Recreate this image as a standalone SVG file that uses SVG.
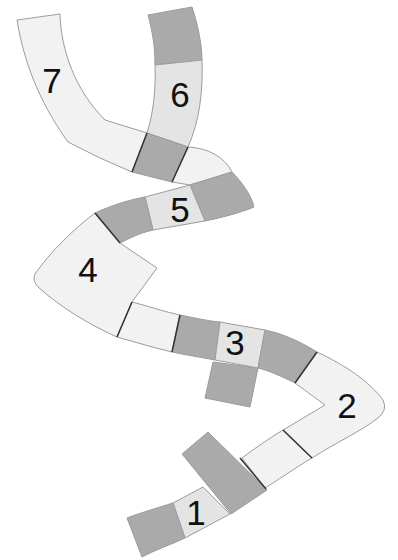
<svg xmlns="http://www.w3.org/2000/svg" width="398" height="560" viewBox="0 0 398 560">
<style>
.lt{fill:#f2f2f2;stroke:#9c9c9c;stroke-width:1;stroke-linejoin:round}
.md{fill:#e4e4e4;stroke:#9c9c9c;stroke-width:1;stroke-linejoin:round}
.dk{fill:#aaaaaa;stroke:#9c9c9c;stroke-width:1;stroke-linejoin:round}
.sep{stroke:#333;stroke-width:1.5;fill:none}
.num{font-family:"Liberation Sans",Arial,sans-serif;font-size:35px;fill:#111;text-anchor:middle}
</style>
<rect width="398" height="560" fill="#fff"/>
<g id="seg7">
<path class="lt" d="M17,20 L60,14 C61,50 75,90 105,120 L147,133 L132,172 L100,158 L68,142 C45,110 25,70 17,20 Z"/>
<text class="num" x="52" y="93">7</text>
</g>
<g id="seg6">
<path class="dk" d="M148,15 L192,7 C198,25 202,45 202,60 L155,65 C155,45 152,30 148,15 Z"/>
<path class="md" d="M155,65 L202,60 C203,90 200,120 188,147 L147,133 C153,115 156,90 155,65 Z"/>
<path class="dk" d="M147,133 L188,147 L172,182 L132,172 Z"/>
<text class="num" x="180" y="107">6</text>
</g>
<g id="seg5">
<path class="lt" d="M188,147 C207,148 224,156 232,172 L190,185 L172,182 Z"/>
<path class="dk" d="M190,185 L232,172 C243,183 252,197 254,207 C240,213 220,218 205,221 Z"/>
<path class="md" d="M145,197 L190,185 L205,221 L153,230 Z"/>
<path class="dk" d="M95,213 C110,206 128,200 145,197 L153,230 C140,233 130,238 120,243 Z"/>
<text class="num" x="180" y="222">5</text>
</g>
<g id="seg4">
<path class="lt" d="M95,213 L120,243 L157,268 L132,302 L117,337 C90,325 60,307 38,287 Q32,280 35,274 C50,252 75,228 95,213 Z"/>
<path class="lt" d="M132,302 C148,306 165,312 180,315 L172,352 C155,348 135,342 117,337 Z"/>
<text class="num" x="88" y="282">4</text>
</g>
<g id="seg3">
<path class="dk" d="M180,315 C195,318 208,321 220,322 L215,360 C200,357 185,355 172,352 Z"/>
<path class="dk" d="M213,362 L258,368 L250,407 L205,398 Z"/>
<path class="md" d="M220,322 L265,330 L258,368 L215,360 Z"/>
<path class="dk" d="M265,330 C280,333 298,340 317,352 L295,383 C283,377 270,371 258,368 Z"/>
<text class="num" x="235" y="355">3</text>
</g>
<g id="seg2">
<path class="lt" d="M317,352 C345,365 370,382 383,400 Q388,410 378,418 C360,432 335,443 312,458 L283,430 L325,405 L295,383 Z"/>
<path class="lt" d="M283,430 C270,438 255,448 242,458 L265,488 C275,482 295,468 312,458 Z"/>
<text class="num" x="347" y="418">2</text>
</g>
<g id="seg1">
<path class="dk" d="M182,454 L208,432 L267,490 L231,514 Z"/>
<path class="md" d="M173,503 L203,487 L230,514 L185,538 Z"/>
<path class="dk" d="M127,518 C140,513 160,507 173,503 L185,538 C170,545 155,550 142,557 Z"/>
<text class="num" x="196" y="525">1</text>
</g>
<g id="connectors">
<line class="sep" x1="147" y1="133" x2="132" y2="172"/>
<line class="sep" x1="188" y1="147" x2="172" y2="182"/>
<line class="sep" x1="95" y1="213" x2="120" y2="243"/>
<line class="sep" x1="132" y1="302" x2="117" y2="337"/>
<line class="sep" x1="180" y1="315" x2="172" y2="352"/>
<line class="sep" x1="317" y1="352" x2="295" y2="383"/>
<line class="sep" x1="312" y1="458" x2="283" y2="430"/>
<line class="sep" x1="240" y1="458" x2="266" y2="489"/>
</g>
</svg>
